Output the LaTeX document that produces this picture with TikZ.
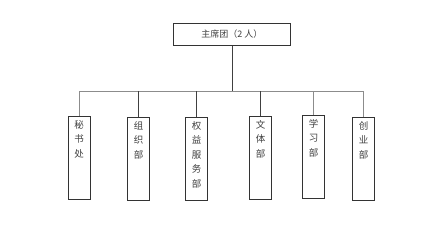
\documentclass[tikz,border=0pt]{standalone}
\usepackage{fontspec}
\newfontfamily\cjk{Noto Sans CJK SC}
\begin{document}
\begin{tikzpicture}[x=1pt,y=-1pt,
  deptbox/.style={draw=black!80, line width=0.8pt, fill=white, inner sep=0pt, anchor=north,
    font=\cjk\fontsize{9.5}{14.5}\selectfont, text=black!75},
  headbox/.style={draw=black!80, line width=0.8pt, fill=white, inner sep=0pt, anchor=north west,
    minimum width=117pt, minimum height=22pt, font=\cjk\fontsize{9}{10}\selectfont, text=black!75},
  darkline/.style={draw=black!75, line width=0.8pt},
  lightline/.style={draw=black!45, line width=0.9pt}]
\useasboundingbox (0,0) rectangle (441,226);
\newcommand{\deptcol}[1]{\parbox[t][83pt][t]{22pt}{\vspace{4pt}\centering #1}}
\node[headbox] (top) at (173,23) {主席团（2 人）};
\coordinate (j) at (232,91);
\node[deptbox] (b1) at (79,116) {\deptcol{秘\\书\\处}};
\node[deptbox] (b2) at (138.5,117) {\deptcol{组\\织\\部}};
\node[deptbox] (b3) at (196.5,117) {\deptcol{权\\益\\服\\务\\部}};
\node[deptbox] (b4) at (260.5,116) {\deptcol{文\\体\\部}};
\node[deptbox] (b5) at (313.5,115) {\deptcol{学\\习\\部}};
\node[deptbox] (b6) at (363.5,117) {\deptcol{创\\业\\部}};
\draw[lightline] (b1.north |- j) -- (b6.north |- j);
\draw[darkline] (top.south -| j) -- (j);
\draw[lightline] (b1.north |- j) -- (b1.north);
\draw[darkline] (b2.north |- j) -- (b2.north);
\draw[darkline] (b3.north |- j) -- (b3.north);
\draw[darkline] (b4.north |- j) -- (b4.north);
\draw[lightline] (b5.north |- j) -- (b5.north);
\draw[lightline] (b6.north |- j) -- (b6.north);
\end{tikzpicture}
\end{document}
